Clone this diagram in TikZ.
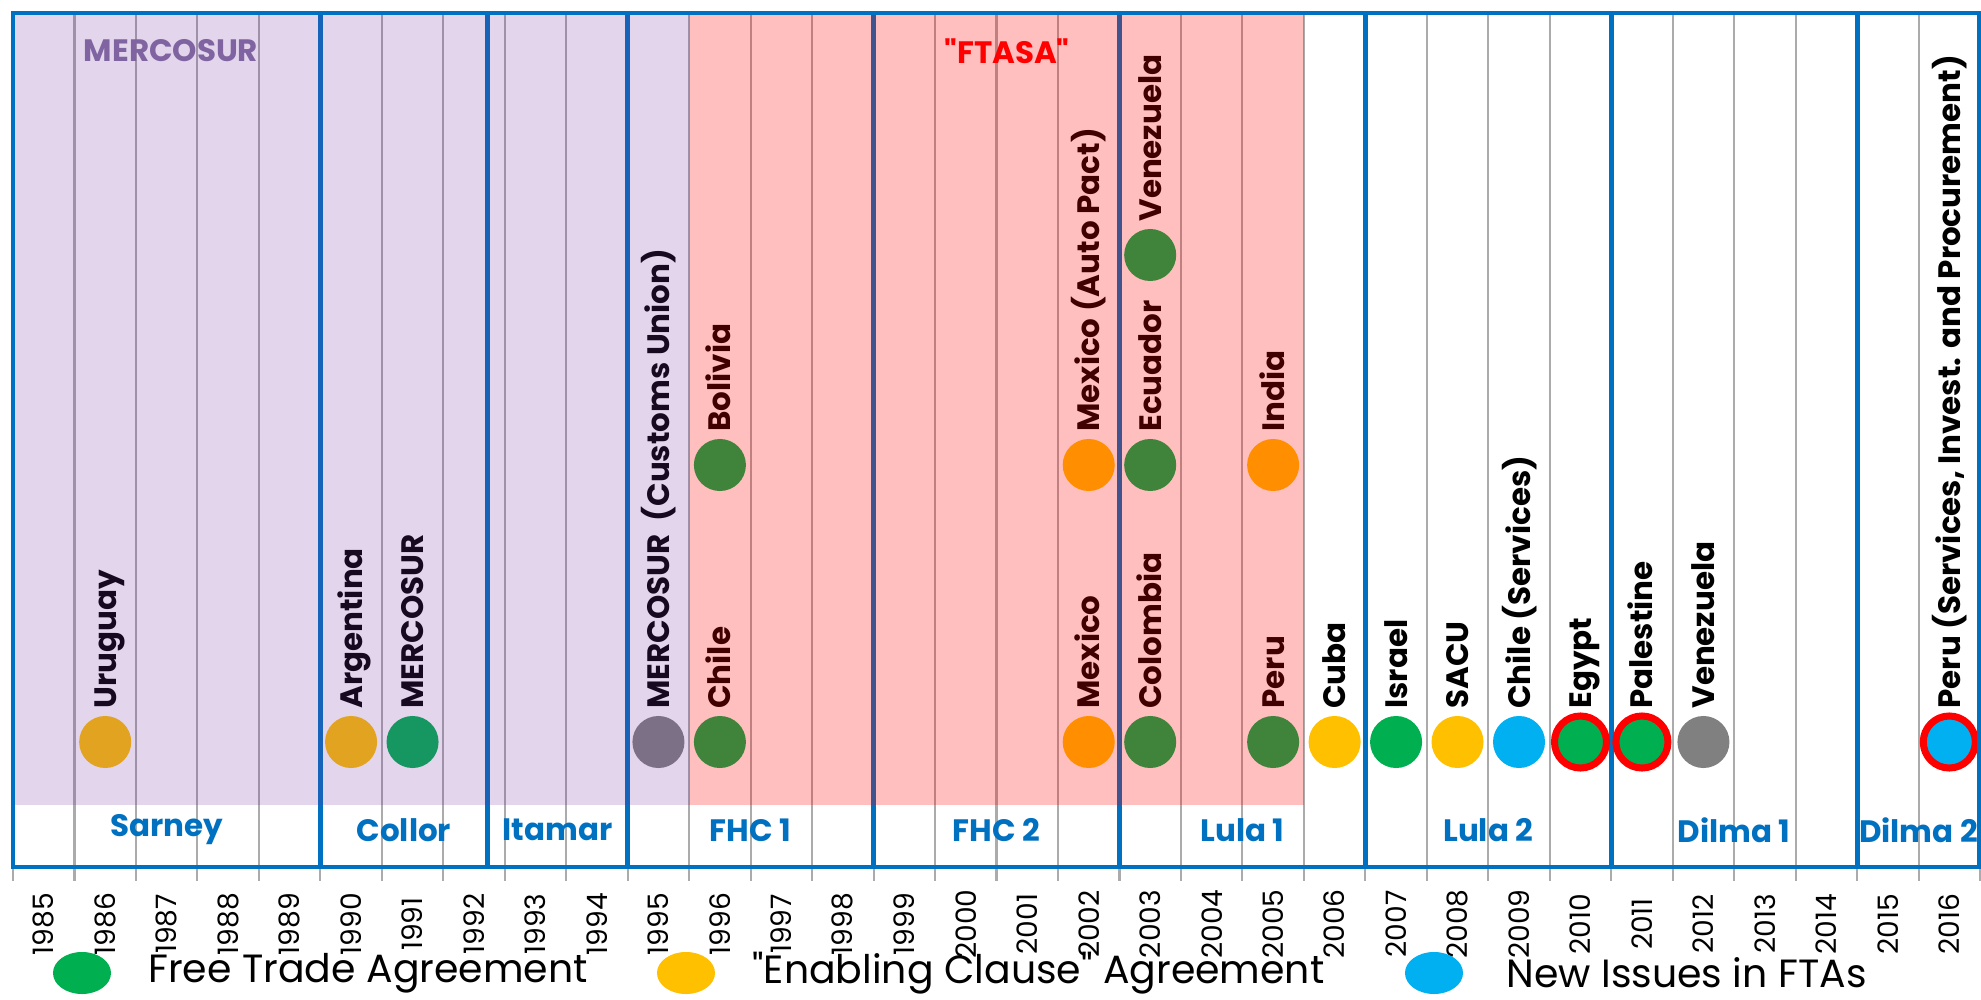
\documentclass[tikz,border=0pt]{standalone}
\usepackage{fontspec}
\setmainfont{Poppins}
\usepackage{tikz}
\usetikzlibrary{ positioning,     % For easy node-relative placements
                 shapes.geometric % For the legend ellipses
               }
\definecolor{termblue}{HTML}{0070C0}
\definecolor{gridgray}{HTML}{ABABAB}
\definecolor{fta}{HTML}{00B050}
\definecolor{enabling}{HTML}{FFC000}
\definecolor{newissues}{HTML}{00B0F0}
\definecolor{neutral}{HTML}{808080}
\definecolor{mercoshade}{HTML}{7030A0}
\definecolor{mercotitle}{HTML}{8064A2}
\tikzstyle{agreement} = [circle, minimum size=0.52cm, inner sep=0pt]
\tikzstyle{ring} = [circle, minimum size=0.52cm, inner sep=0pt, draw=red, line width=2pt]
\tikzstyle{partner} = [rotate=90, anchor=base west, inner sep=0pt, font=\bfseries\fontsize{8.8}{10}\selectfont]
\tikzstyle{title} = [font=\bfseries\fontsize{8.8}{10}\selectfont]
\tikzstyle{term} = [text=termblue, font=\bfseries\fontsize{8.8}{10}\selectfont]
\tikzstyle{yearlabel} = [rotate=90, inner sep=0pt, font=\fontsize{8}{10}\selectfont]
\tikzstyle{gridline} = [draw=gridgray, line width=0.6pt]
\tikzstyle{termline} = [draw=termblue, line width=1.4pt]
\tikzstyle{legend_dot} = [ellipse, minimum width=0.58cm, minimum height=0.42cm, inner sep=0pt]
\tikzstyle{legend_text} = [inner sep=0pt, font=\fontsize{11.2}{13}\selectfont]

\begin{document}
\begin{tikzpicture}[x=0.01cm, y=-0.01cm]
  \useasboundingbox (0,0) rectangle (1981,1000);
  \fill[white] (0,0) rectangle (1981,1000);

  \foreach \k in {0,...,32}
    \draw[gridline] ({13+61.47*\k},13) -- ({13+61.47*\k},881);
  \foreach \k in {5,7.72,10,14,18,22,26,30}
    \draw[termline] ({13+61.47*\k},13) -- ({13+61.47*\k},867);

  \foreach \n/\i/\r/\c/\t in {uru/1/742/enabling/Uruguay,
      arg/5/742/enabling/Argentina,
      mer/6/742/fta/MERCOSUR,
      mcu/10/742/neutral/{MERCOSUR\ \ (Customs Union)},
      chl/11/742/fta/Chile,
      bol/11/465/fta/Bolivia,
      mex/17/742/enabling/Mexico,
      mxa/17/465/enabling/{Mexico (Auto Pact)},
      col/18/742/fta/Colombia,
      ecu/18/465/fta/Ecuador,
      vzl/18/255/fta/Venezuela,
      per/20/742/fta/Peru,
      ind/20/465/enabling/India,
      cub/21/742/enabling/Cuba,
      isr/22/742/fta/Israel,
      sacu/23/742/enabling/SACU,
      chs/24/742/newissues/{Chile (Services)},
      egy/25/742/fta/Egypt,
      pal/26/742/fta/Palestine,
      ven/27/742/neutral/Venezuela,
      pes/31/742/newissues/{Peru (Services, Invest. and Procurement)}}
  {
    \node (\n) [agreement, fill=\c] at ({13+61.47*(\i+0.5)},\r) {};
    \node (\n-label) [partner] at ([xshift=0.11cm, yshift=0.06cm]\n.north) {\t};
  }
  \foreach \n in {egy,pal,pes}
    \node (\n-ring) [ring] at (\n) {};

  \fill[mercoshade, opacity=0.2] (13,13) rectangle ({13+61.47*11},805);
  \fill[red, opacity=0.25] ({13+61.47*11},13) rectangle ({13+61.47*21},805);
  \draw[termline] (13,13) rectangle (1979,867);

  \node (mercosur) [title, text=mercotitle] at (171,51) {MERCOSUR};
  \node (ftasa) [title, text=red] at (1007,51) {\textquotedbl FTASA\textquotedbl};

  \foreach \n/\a/\b in {Sarney/0/5, Collor/5/7.72, Itamar/7.72/10, FHC 1/10/14,
      FHC 2/14/18, Lula 1/18/22, Lula 2/22/26, Dilma 1/26/30, Dilma 2/30/32}
    \node (term-\a) [term] at ({13+61.47*(\a+\b)/2},830) {\n};

  \foreach \y [count=\k from 0] in {1985,...,2016}
    \node (y\y) [yearlabel] at ({13+61.47*(\k+0.5)},924) {\y};

  \node (lg-fta) [legend_dot, fill=fta] at (82,973) {};
  \node (lg-fta-text) [legend_text, right=0.36cm of lg-fta] {Free Trade Agreement};
  \node (lg-ec) [legend_dot, fill=enabling] at (686,973) {};
  \node (lg-ec-text) [legend_text, right=0.36cm of lg-ec] {\textquotedbl Enabling Clause\textquotedbl{} Agreement};
  \node (lg-ni) [legend_dot, fill=newissues] at (1434,973) {};
  \node (lg-ni-text) [legend_text, right=0.42cm of lg-ni] {New Issues in FTAs};
\end{tikzpicture}
\end{document}
